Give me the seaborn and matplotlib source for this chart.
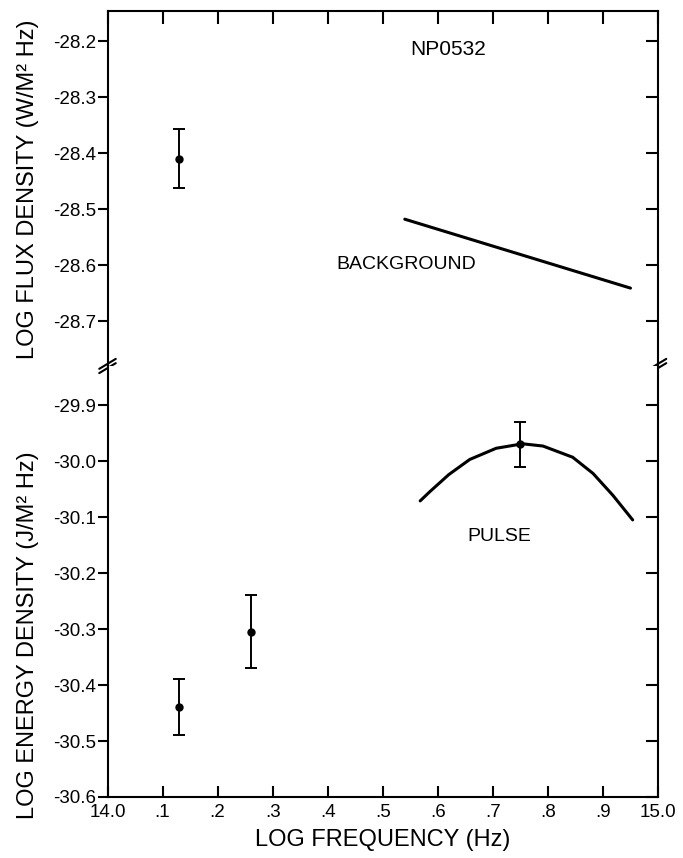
import matplotlib
matplotlib.use("Agg")
import matplotlib.pyplot as plt
import seaborn as sns

# Dati
freq_ticks = [14.0, 14.1, 14.2, 14.3, 14.4, 14.5, 14.6, 14.7, 14.8, 14.9, 15.0]
freq_labels = ["14.0", ".1", ".2", ".3", ".4", ".5", ".6", ".7", ".8", ".9", "15.0"]
flux_ticks = [-28.2, -28.3, -28.4, -28.5, -28.6, -28.7]
energy_ticks = [-29.9, -30.0, -30.1, -30.2, -30.3, -30.4, -30.5, -30.6]

flux_pt_x = [14.13]
flux_pt_y = [-28.41]
flux_pt_err = [0.053]

energy_pt_x = [14.13, 14.26, 14.75]
energy_pt_y = [-30.44, -30.305, -29.97]
energy_pt_err = [0.05, 0.065, 0.04]

background_x = [14.54, 14.95]
background_y = [-28.518, -28.641]

pulse_x = [14.568, 14.585, 14.62, 14.658, 14.706, 14.754, 14.791, 14.845, 14.882, 14.918, 14.954]
pulse_y = [-30.071, -30.055, -30.024, -29.997, -29.977, -29.969, -29.973, -29.993, -30.022, -30.061, -30.105]

sns.set_theme(style="ticks")
plt.rcParams['font.family'] = ['Liberation Sans', 'DejaVu Sans']
plt.rcParams['axes.linewidth'] = 1.5
plt.rcParams['text.color'] = 'black'
plt.rcParams['axes.labelcolor'] = 'black'
plt.rcParams['xtick.color'] = 'black'
plt.rcParams['ytick.color'] = 'black'
plt.rcParams['axes.edgecolor'] = 'black'

fig = plt.figure(figsize=(6.83, 8.58), dpi=100)
gs = fig.add_gridspec(2, 1, height_ratios=[355, 431], hspace=0,
                      left=0.1574, right=0.9634, top=0.9872, bottom=0.0711)
ax_top = fig.add_subplot(gs[0])
ax_bot = fig.add_subplot(gs[1])

ax_top.set_ylim(-28.780, -28.1464)
ax_bot.set_ylim(-30.6, -29.830)

for ax, ticks in ((ax_top, flux_ticks), (ax_bot, energy_ticks)):
    ax.set_xlim(14.0, 15.0)
    ax.set_yticks(ticks, labels=[f"{t:.1f}" for t in ticks])
    ax.tick_params(axis='y', direction='out', length=7, width=1.5, pad=1,
                   labelsize=13.5, right=False)
    ax.set_facecolor('white')
    # tacche interne sul lato destro
    ax_r = ax.twinx()
    ax_r.set_ylim(ax.get_ylim())
    ax_r.set_yticks(ticks)
    ax_r.tick_params(axis='y', direction='in', length=9, width=1.5, labelright=False)
    for s in ax_r.spines.values():
        s.set_visible(False)

ax_top.spines['bottom'].set_visible(False)
ax_bot.spines['top'].set_visible(False)

ax_top.set_xticks(freq_ticks)
ax_top.tick_params(axis='x', top=True, bottom=False, direction='in', length=9, width=1.5,
                   labelbottom=False, labeltop=False)
ax_bot.set_xticks(freq_ticks, labels=freq_labels)
ax_bot.tick_params(axis='x', top=False, bottom=True, direction='in', length=8, width=1.5,
                   labelsize=13.5, pad=5)

# Curve
sns.lineplot(x=background_x, y=background_y, ax=ax_top, color='black', linewidth=2.2,
             sort=False, estimator=None)
sns.lineplot(x=pulse_x, y=pulse_y, ax=ax_bot, color='black', linewidth=2.2,
             sort=False, estimator=None, solid_joinstyle='round')

# Punti con barre d'errore
ax_top.errorbar(flux_pt_x, flux_pt_y, yerr=flux_pt_err, fmt='o', color='black',
                markersize=5, capsize=4.3, elinewidth=1.4, capthick=1.4)
ax_bot.errorbar(energy_pt_x, energy_pt_y, yerr=energy_pt_err, fmt='o', color='black',
                markersize=5, capsize=4.3, elinewidth=1.4, capthick=1.4)

# Testi
ax_top.text(14.618, -28.215, "NP0532", fontsize=15, ha='center', va='center')
ax_top.text(14.5435, -28.599, "BACKGROUND", fontsize=14, ha='center', va='center')
ax_bot.text(14.712, -30.134, "PULSE", fontsize=14, ha='center', va='center')

fig.text(28 / 683, 1 - 189 / 858, "LOG FLUX DENSITY (W/M² Hz)", rotation=90,
         ha='center', va='center', fontsize=17)
fig.text(28 / 683, 1 - 635 / 858, "LOG ENERGY DENSITY (J/M² Hz)", rotation=90,
         ha='center', va='center', fontsize=17)
fig.text(383 / 683, 1 - 840 / 858, "LOG FREQUENCY (Hz)", ha='center', va='center', fontsize=17)

# Segni di interruzione dell'asse
dx, dy, gap = 0.015, 0.014, 0.012
for x0 in (0.0, 1.0):
    for off in (-gap / 2, gap / 2):
        ax_top.plot([x0 - dx, x0 + dx], [off - dy, off + dy], transform=ax_top.transAxes,
                    color='black', linewidth=1.5, clip_on=False)

fig.savefig("out.png", dpi=100)
